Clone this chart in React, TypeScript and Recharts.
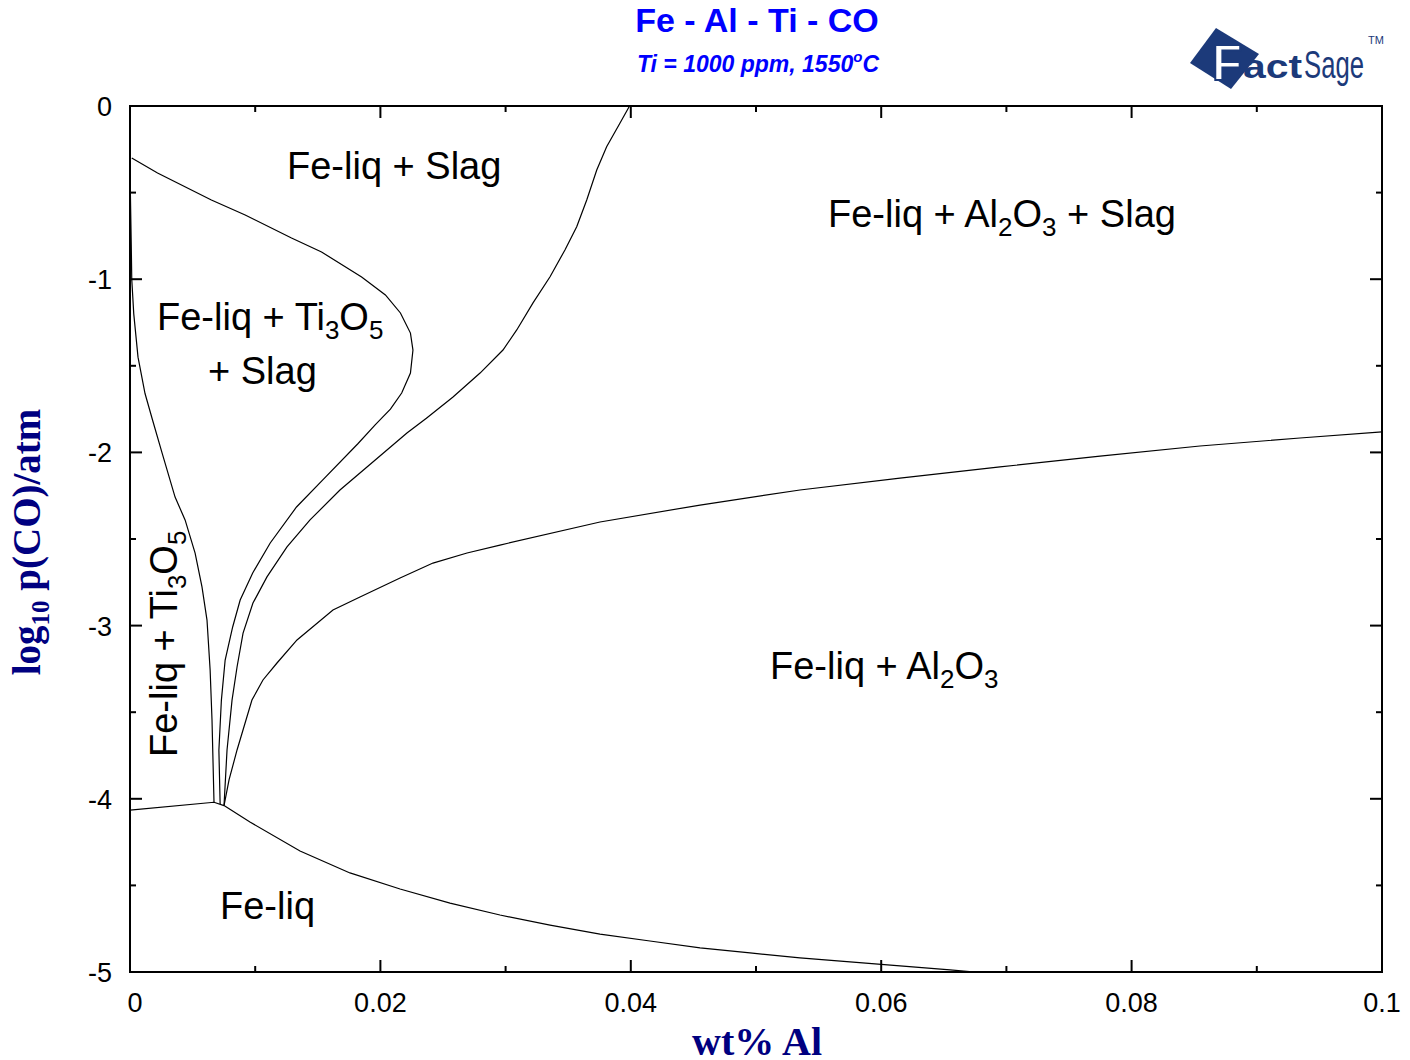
import React from 'react';
import { LineChart, Line, XAxis, YAxis, Customized } from 'recharts';

// ---- data (wt% Al, log10 p(CO)) ----
const curveLeft = [
  { x: 0.00003, y: -0.5 }, { x: 0.0001, y: -0.8 }, { x: 0.00014, y: -1.0 }, { x: 0.0003, y: -1.2 },
  { x: 0.00064, y: -1.45 }, { x: 0.0012, y: -1.66 }, { x: 0.0018, y: -1.813 }, { x: 0.00256, y: -2.003 },
  { x: 0.0036, y: -2.258 }, { x: 0.0044, y: -2.39 }, { x: 0.0052, y: -2.581 }, { x: 0.00575, y: -2.777 },
  { x: 0.00615, y: -2.968 }, { x: 0.0064, y: -3.256 }, { x: 0.00655, y: -3.545 }, { x: 0.00671, y: -4.02 },
];
const curveLoop = [
  { x: 0.00014, y: -0.3 }, { x: 0.0022, y: -0.387 }, { x: 0.0065, y: -0.543 }, { x: 0.0092, y: -0.629 },
  { x: 0.0129, y: -0.762 }, { x: 0.0153, y: -0.843 }, { x: 0.0185, y: -0.987 }, { x: 0.0204, y: -1.091 },
  { x: 0.0216, y: -1.195 }, { x: 0.0224, y: -1.311 }, { x: 0.0226, y: -1.409 }, { x: 0.0224, y: -1.542 },
  { x: 0.0217, y: -1.657 }, { x: 0.0208, y: -1.75 }, { x: 0.0196, y: -1.84 }, { x: 0.0182, y: -1.95 },
  { x: 0.0154, y: -2.159 }, { x: 0.0133, y: -2.315 }, { x: 0.0112, y: -2.523 }, { x: 0.0098, y: -2.696 },
  { x: 0.0088, y: -2.852 }, { x: 0.0082, y: -3.008 }, { x: 0.0076, y: -3.199 }, { x: 0.0073, y: -3.43 },
  { x: 0.0071, y: -3.72 }, { x: 0.0072, y: -4.03 },
];
const curveSlagAl2O3 = [
  { x: 0.0399, y: 0 }, { x: 0.03914, y: -0.098 }, { x: 0.03807, y: -0.235 }, { x: 0.03728, y: -0.37 },
  { x: 0.03648, y: -0.543 }, { x: 0.03568, y: -0.697 }, { x: 0.03474, y: -0.831 }, { x: 0.03355, y: -0.986 },
  { x: 0.03219, y: -1.137 }, { x: 0.03089, y: -1.293 }, { x: 0.02979, y: -1.409 }, { x: 0.02796, y: -1.542 },
  { x: 0.0258, y: -1.68 }, { x: 0.0237, y: -1.801 }, { x: 0.02212, y: -1.888 }, { x: 0.01893, y: -2.084 },
  { x: 0.01677, y: -2.217 }, { x: 0.01438, y: -2.39 }, { x: 0.01254, y: -2.546 }, { x: 0.01094, y: -2.719 },
  { x: 0.00982, y: -2.87 }, { x: 0.00903, y: -3.043 }, { x: 0.00855, y: -3.239 }, { x: 0.00815, y: -3.43 },
  { x: 0.00775, y: -3.718 }, { x: 0.00751, y: -4.039 },
];
const curveAl2O3 = [
  { x: 0.1, y: -1.882 }, { x: 0.09345, y: -1.917 }, { x: 0.08546, y: -1.963 }, { x: 0.07748, y: -2.021 },
  { x: 0.06949, y: -2.084 }, { x: 0.0615, y: -2.148 }, { x: 0.05351, y: -2.217 }, { x: 0.04553, y: -2.304 },
  { x: 0.03754, y: -2.402 }, { x: 0.02955, y: -2.535 }, { x: 0.02692, y: -2.581 }, { x: 0.0242, y: -2.639 },
  { x: 0.02157, y: -2.725 }, { x: 0.01837, y: -2.835 }, { x: 0.01621, y: -2.91 }, { x: 0.01334, y: -3.083 },
  { x: 0.01174, y: -3.216 }, { x: 0.01062, y: -3.314 }, { x: 0.00974, y: -3.43 }, { x: 0.00855, y: -3.718 },
  { x: 0.00791, y: -3.891 }, { x: 0.00751, y: -4.039 },
];
const curveBottomLeft = [
  { x: 0, y: -4.065 }, { x: 0.00671, y: -4.02 }, { x: 0.00751, y: -4.039 },
];
const curveFeLiq = [
  { x: 0.00751, y: -4.039 }, { x: 0.00958, y: -4.134 }, { x: 0.01358, y: -4.301 }, { x: 0.01757, y: -4.428 },
  { x: 0.02157, y: -4.521 }, { x: 0.02556, y: -4.602 }, { x: 0.02955, y: -4.671 }, { x: 0.03355, y: -4.729 },
  { x: 0.03754, y: -4.781 }, { x: 0.04153, y: -4.821 }, { x: 0.04553, y: -4.861 }, { x: 0.04952, y: -4.89 },
  { x: 0.05351, y: -4.919 }, { x: 0.05751, y: -4.942 }, { x: 0.0615, y: -4.965 }, { x: 0.0655, y: -4.988 },
  { x: 0.06749, y: -5.0 },
];

const xMajor = [0, 0.02, 0.04, 0.06, 0.08, 0.1];
const xMajorLabels = ['0', '0.02', '0.04', '0.06', '0.08', '0.1'];
const xMinor = [0.01, 0.03, 0.05, 0.07, 0.09];
const yMajor = [-5, -4, -3, -2, -1, 0];
const yMajorLabels = ['-5', '-4', '-3', '-2', '-1', '0'];
const yMinor = [-4.5, -3.5, -2.5, -1.5, -0.5];

const xTicks = [...xMajor, ...xMinor].sort((a, b) => a - b);
const yTicks = [...yMajor, ...yMinor].sort((a, b) => a - b);

const series = [curveLeft, curveLoop, curveSlagAl2O3, curveAl2O3, curveBottomLeft, curveFeLiq];

// ---- layout ----
const PL = 130, PR = 1382, PT = 106, PB = 972;
const SANS = 'Liberation Sans, Arial, sans-serif';
const SERIF = 'Liberation Serif, Times New Roman, serif';
const NAVY = '#000080';
const BLUE = '#0000FF';
const LOGO = '#1c3a7a';

const findIdx = (arr: number[], v: number) => arr.findIndex((a) => Math.abs(a - v) < 1e-9);

const XTick = (props: any) => {
  const { x, payload } = props;
  const i = findIdx(xMajor, payload.value);
  const len = i >= 0 ? 12 : 6;
  return (
    <g>
      <line x1={x} x2={x} y1={PB} y2={PB - len} stroke="#000" strokeWidth={2} />
      <line x1={x} x2={x} y1={PT} y2={PT + len} stroke="#000" strokeWidth={2} />
      {i >= 0 && (
        <text x={x + (i === 0 ? 5 : 0)} y={1012} textAnchor="middle" fontFamily={SANS} fontSize={27} fill="#000">
          {xMajorLabels[i]}
        </text>
      )}
    </g>
  );
};

const YTick = (props: any) => {
  const { y, payload } = props;
  const i = findIdx(yMajor, payload.value);
  const len = i >= 0 ? 12 : 6;
  return (
    <g>
      <line x1={PL} x2={PL + len} y1={y} y2={y} stroke="#000" strokeWidth={2} />
      <line x1={PR} x2={PR - len} y1={y} y2={y} stroke="#000" strokeWidth={2} />
      {i >= 0 && (
        <text x={112} y={y + 10} textAnchor="end" fontFamily={SANS} fontSize={27} fill="#000">
          {yMajorLabels[i]}
        </text>
      )}
    </g>
  );
};

const Decorations = () => (
  <g>
    <rect x={PL} y={PT} width={PR - PL} height={PB - PT} fill="none" stroke="#000" strokeWidth={2} />
    {/* titles */}
    <text x={757} y={32} textAnchor="middle" fontFamily={SANS} fontWeight="bold" fontSize={34} fill={BLUE}>
      Fe - Al - Ti - CO
    </text>
    <text x={758} y={72} textAnchor="middle" fontFamily={SANS} fontWeight="bold" fontStyle="italic" fontSize={23} fill={BLUE}>
      Ti = 1000 ppm, 1550<tspan dy={-10} fontSize={15}>o</tspan><tspan dy={10}>C</tspan>
    </text>
    {/* axis titles */}
    <text x={757} y={1055} textAnchor="middle" fontFamily={SERIF} fontWeight="bold" fontSize={40} fill={NAVY}>
      wt% Al
    </text>
    <text transform="translate(40,542) rotate(-90)" textAnchor="middle" fontFamily={SERIF} fontWeight="bold" fontSize={39} fill={NAVY}>
      log<tspan dy={9} fontSize={25}>10</tspan><tspan dy={-9}> p(CO)/atm</tspan>
    </text>
    {/* region labels */}
    <g fontFamily={SANS} fontSize={38} fill="#000">
      <text x={287} y={179}>Fe-liq + Slag</text>
      <text x={828} y={227}>
        Fe-liq + Al<tspan dy={9} fontSize={26}>2</tspan><tspan dy={-9}>O</tspan><tspan dy={9} fontSize={26}>3</tspan><tspan dy={-9}> + Slag</tspan>
      </text>
      <text x={157} y={330}>
        Fe-liq + Ti<tspan dy={9} fontSize={26}>3</tspan><tspan dy={-9}>O</tspan><tspan dy={9} fontSize={26}>5</tspan>
      </text>
      <text x={208} y={384}>+ Slag</text>
      <text transform="translate(177,757) rotate(-90)">
        Fe-liq + Ti<tspan dy={9} fontSize={26}>3</tspan><tspan dy={-9}>O</tspan><tspan dy={9} fontSize={26}>5</tspan>
      </text>
      <text x={770} y={679}>
        Fe-liq + Al<tspan dy={9} fontSize={26}>2</tspan><tspan dy={-9}>O</tspan><tspan dy={9} fontSize={26}>3</tspan>
      </text>
      <text x={220} y={919}>Fe-liq</text>
    </g>
    {/* logo */}
    <g>
      <polygon points="1216,28 1190,63 1231,89 1259,54" fill={LOGO} />
      <text x={1212} y={80} fontFamily={SANS} fontWeight="bold" fontSize={50} fill="#fff" stroke={LOGO} strokeWidth={2} textLength={30} lengthAdjust="spacingAndGlyphs">F</text>
      <text x={1243} y={78} fontFamily={SANS} fontWeight="bold" fontSize={34} fill={LOGO} textLength={59} lengthAdjust="spacingAndGlyphs">act</text>
      <text x={1304} y={78} fontFamily={SANS} fontSize={38} fill={LOGO} textLength={60} lengthAdjust="spacingAndGlyphs">Sage</text>
      <text x={1368} y={44} fontFamily={SANS} fontSize={11} fill={LOGO}>TM</text>
    </g>
  </g>
);

export default function App() {
  return (
    <div style={{ position: 'absolute', left: 0, top: 0, width: 1410, height: 1060, background: '#fff' }}>
      <LineChart width={1410} height={1060} margin={{ top: 106, right: 28, bottom: 58, left: 70 }}>
        <XAxis
          type="number"
          dataKey="x"
          domain={[0, 0.1]}
          ticks={xTicks}
          interval={0}
          tick={<XTick />}
          tickLine={false}
          axisLine={false}
          height={30}
          allowDataOverflow
        />
        <YAxis
          type="number"
          dataKey="y"
          domain={[-5, 0]}
          ticks={yTicks}
          interval={0}
          tick={<YTick />}
          tickLine={false}
          axisLine={false}
          width={60}
          allowDataOverflow
        />
        {series.map((s, i) => (
          <Line
            key={i}
            data={s}
            dataKey="y"
            type="linear"
            stroke="#000"
            strokeWidth={1.2}
            dot={false}
            activeDot={false}
            isAnimationActive={false}
          />
        ))}
        <Customized component={<Decorations />} />
      </LineChart>
    </div>
  );
}
